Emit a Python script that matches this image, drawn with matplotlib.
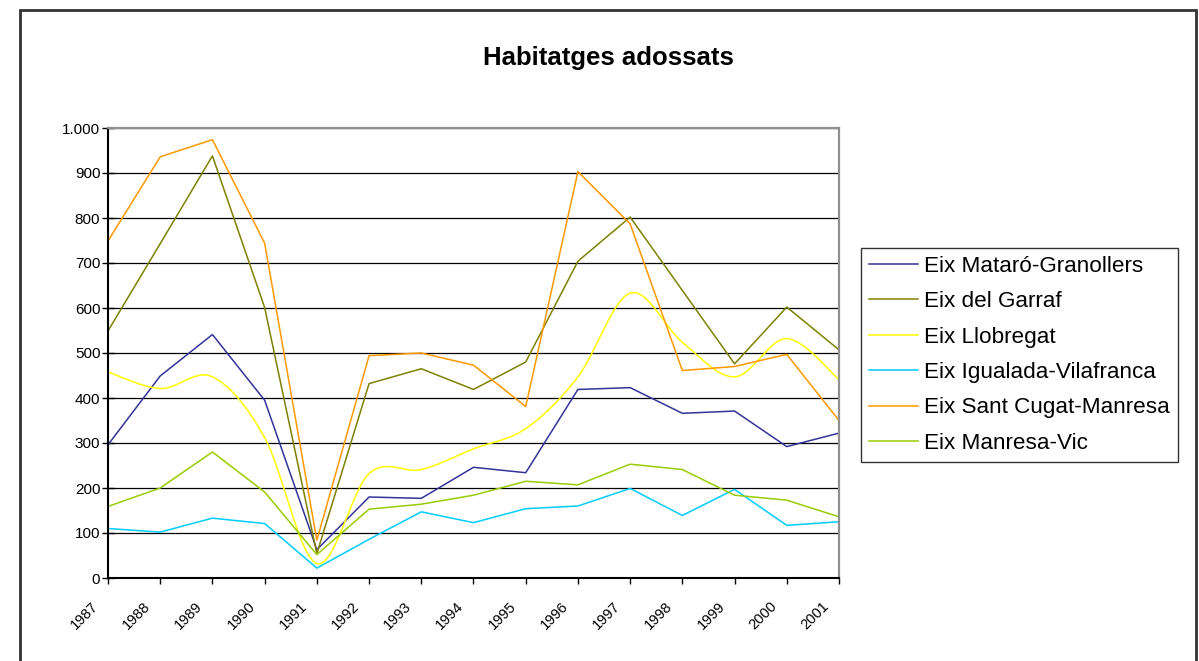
import numpy as np
import matplotlib
matplotlib.use("Agg")
import matplotlib.pyplot as plt
import matplotlib.transforms as mtransforms
from matplotlib.ticker import FuncFormatter, MultipleLocator
from matplotlib.patches import Rectangle

plt.rcParams['font.family'] = ['Liberation Sans', 'DejaVu Sans']

years = [1987, 1988, 1989, 1990, 1991, 1992, 1993, 1994, 1995, 1996, 1997, 1998, 1999, 2000, 2001]

mataro_granollers = [296, 449, 541, 395, 63, 180, 177, 246, 234, 419, 423, 366, 371, 292, 322]
garraf = [549, 743, 938, 601, 54, 432, 465, 419, 480, 704, 802, 639, 476, 602, 507]
llobregat = [458, 421, 447, 312, 32, 232, 241, 287, 332, 447, 633, 524, 447, 532, 441]
igualada_vilafranca = [110, 102, 133, 121, 22, 86, 147, 123, 154, 160, 199, 139, 197, 117, 125]
sant_cugat_manresa = [749, 936, 974, 744, 84, 494, 500, 473, 381, 903, 787, 461, 470, 497, 350]
manresa_vic = [159, 200, 280, 191, 52, 153, 164, 184, 215, 207, 253, 241, 184, 173, 136]

series_names = ["Eix Mataró-Granollers", "Eix del Garraf", "Eix Llobregat",
                "Eix Igualada-Vilafranca", "Eix Sant Cugat-Manresa", "Eix Manresa-Vic"]
series_values = [mataro_granollers, garraf, llobregat, igualada_vilafranca,
                 sant_cugat_manresa, manresa_vic]
series_colors = ["#333399", "#808000", "#FFFF00", "#00CCFF", "#FF9900", "#99CC00"]
series_smooth = [False, False, True, False, False, False]


def smooth_curve(x, y, n=30):
    """Catmull-Rom (Excel-like smoothed line) through data points."""
    x = np.asarray(x, float)
    y = np.asarray(y, float)
    px = np.concatenate([[x[0]], x, [x[-1]]])
    py = np.concatenate([[y[0]], y, [y[-1]]])
    xs, ys = [], []
    t = np.linspace(0, 1, n)
    for i in range(1, len(px) - 2):
        p0 = np.array([px[i], py[i]])
        p3 = np.array([px[i + 1], py[i + 1]])
        c1 = p0 + (np.array([px[i + 1], py[i + 1]]) - np.array([px[i - 1], py[i - 1]])) / 6.0
        c2 = p3 - (np.array([px[i + 2], py[i + 2]]) - np.array([px[i], py[i]])) / 6.0
        b = ((1 - t) ** 3)[:, None] * p0 + (3 * (1 - t) ** 2 * t)[:, None] * c1 \
            + (3 * (1 - t) * t ** 2)[:, None] * c2 + (t ** 3)[:, None] * p3
        xs.append(b[:, 0])
        ys.append(b[:, 1])
    return np.concatenate(xs), np.concatenate(ys)


W, H = 1199, 661
fig = plt.figure(figsize=(W / 100, H / 100), dpi=100)
ax = fig.add_axes([108 / W, 1 - 578 / H, (839 - 108) / W, (578 - 128) / H])

xpos = np.arange(len(years))
for name, vals, col, sm in zip(series_names, series_values, series_colors, series_smooth):
    if sm:
        sx, sy = smooth_curve(xpos, vals)
        ax.plot(sx, sy, color=col, lw=1.1, label=name)
    else:
        ax.plot(xpos, vals, color=col, lw=1.1, label=name)

ax.set_xlim(0, len(years) - 1)
ax.set_ylim(0, 1000)
ax.yaxis.set_major_locator(MultipleLocator(100))
ax.yaxis.set_major_formatter(FuncFormatter(lambda v, p: f"{int(v):,}".replace(",", ".")))
ax.set_xticks(xpos)
ax.set_xticklabels([])
ax.tick_params(axis='y', labelsize=11, length=9, width=1, direction='inout', pad=1)
ax.tick_params(axis='x', length=4, width=1, direction='out')

# rotated year labels, placed from the axis' own x scale
offset = mtransforms.ScaledTranslation(-12 / 100, -26 / 100, fig.dpi_scale_trans)
for xp, yr in zip(xpos, years):
    ax.text(xp, 0, str(yr), transform=ax.get_xaxis_transform() + offset,
            rotation=45, ha='right', va='center', rotation_mode='anchor',
            fontsize=10.5, clip_on=False)

ax.grid(axis='y', color='black', lw=0.9)
ax.set_axisbelow(True)
for s in ['left', 'bottom']:
    ax.spines[s].set_color('black')
    ax.spines[s].set_linewidth(1.5)
for s in ['top', 'right']:
    ax.spines[s].set_color('#909090')
    ax.spines[s].set_linewidth(1.6)

fig.text(608 / W, 1 - 65 / H, "Habitatges adossats", ha='center', va='baseline',
         fontsize=18.5, fontweight='bold')

leg = fig.legend(loc='upper left', bbox_to_anchor=(861 / W, 1 - 248 / H),
                 frameon=True, fancybox=False, fontsize=16.2, handlelength=2.2,
                 handletextpad=0.25, labelspacing=0.64, borderpad=0.35,
                 borderaxespad=0)
leg.get_frame().set_edgecolor('black')
leg.get_frame().set_linewidth(1.0)

fig.patches.append(Rectangle((20 / W, -0.05), (1196 - 20) / W, 1.05 - 10 / H,
                             transform=fig.transFigure, fill=False,
                             edgecolor='#333333', lw=2))

fig.savefig("out.png", dpi=100)
